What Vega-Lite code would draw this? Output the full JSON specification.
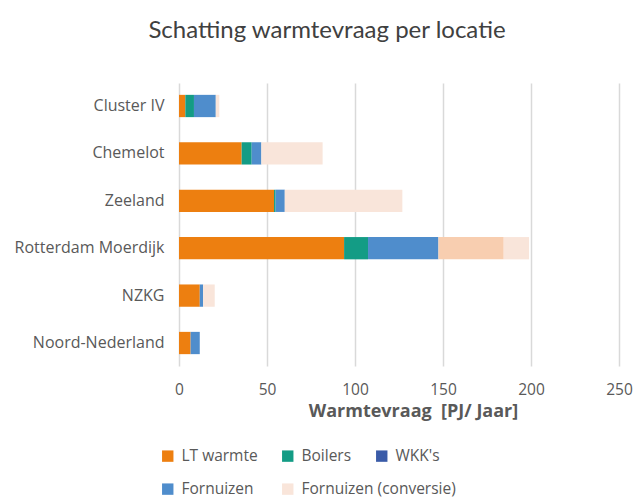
{
  "$schema": "https://vega.github.io/schema/vega-lite/v6.json",
  "width": 440,
  "height": 283,
  "autosize": "none",
  "padding": {"left": 179, "top": 83, "right": 15, "bottom": 133},
  "background": "white",
  "title": {
    "text": "Schatting warmtevraag per locatie",
    "anchor": "middle",
    "dx": -72,
    "offset": 40,
    "fontSize": 24,
    "font": "Lato",
    "fontWeight": "normal",
    "color": "#404040"
  },
  "data": {
    "values": [
      {"locatie": "Cluster IV", "categorie": "LT warmte", "waarde": 3.6},
      {"locatie": "Cluster IV", "categorie": "Boilers", "waarde": 4.9},
      {"locatie": "Cluster IV", "categorie": "WKK's", "waarde": 0},
      {"locatie": "Cluster IV", "categorie": "Fornuizen", "waarde": 12.4},
      {"locatie": "Cluster IV", "categorie": "Fornuizen (conversie)", "waarde": 2.0},
      {"locatie": "Chemelot", "categorie": "LT warmte", "waarde": 35.6},
      {"locatie": "Chemelot", "categorie": "Boilers", "waarde": 5.7},
      {"locatie": "Chemelot", "categorie": "WKK's", "waarde": 0},
      {"locatie": "Chemelot", "categorie": "Fornuizen", "waarde": 5.5},
      {"locatie": "Chemelot", "categorie": "Fornuizen (conversie)", "waarde": 34.8},
      {"locatie": "Zeeland", "categorie": "LT warmte", "waarde": 54.0},
      {"locatie": "Zeeland", "categorie": "Boilers", "waarde": 0.9},
      {"locatie": "Zeeland", "categorie": "WKK's", "waarde": 0},
      {"locatie": "Zeeland", "categorie": "Fornuizen", "waarde": 5.2},
      {"locatie": "Zeeland", "categorie": "Fornuizen (conversie)", "waarde": 66.8},
      {"locatie": "Rotterdam Moerdijk", "categorie": "LT warmte", "waarde": 93.8},
      {"locatie": "Rotterdam Moerdijk", "categorie": "Boilers", "waarde": 13.6},
      {"locatie": "Rotterdam Moerdijk", "categorie": "WKK's", "waarde": 0},
      {"locatie": "Rotterdam Moerdijk", "categorie": "Fornuizen", "waarde": 40.0},
      {"locatie": "Rotterdam Moerdijk", "categorie": "Overig", "waarde": 37.1},
      {"locatie": "Rotterdam Moerdijk", "categorie": "Fornuizen (conversie)", "waarde": 14.4},
      {"locatie": "NZKG", "categorie": "LT warmte", "waarde": 11.8},
      {"locatie": "NZKG", "categorie": "Boilers", "waarde": 0},
      {"locatie": "NZKG", "categorie": "WKK's", "waarde": 0},
      {"locatie": "NZKG", "categorie": "Fornuizen", "waarde": 1.9},
      {"locatie": "NZKG", "categorie": "Fornuizen (conversie)", "waarde": 6.6},
      {"locatie": "Noord-Nederland", "categorie": "LT warmte", "waarde": 6.6},
      {"locatie": "Noord-Nederland", "categorie": "Boilers", "waarde": 0},
      {"locatie": "Noord-Nederland", "categorie": "WKK's", "waarde": 0},
      {"locatie": "Noord-Nederland", "categorie": "Fornuizen", "waarde": 5.2},
      {"locatie": "Noord-Nederland", "categorie": "Fornuizen (conversie)", "waarde": 0}
    ]
  },
  "transform": [
    {"calculate": "indexof(['LT warmte','Boilers','WKK\\'s','Fornuizen','Overig','Fornuizen (conversie)'], datum.categorie)", "as": "volgorde"},
    {"stack": "waarde", "groupby": ["locatie"], "sort": [{"field": "volgorde", "order": "ascending"}], "as": ["x0", "x1"]}
  ],
  "encoding": {
    "y": {
      "field": "locatie",
      "type": "nominal",
      "sort": ["Cluster IV", "Chemelot", "Zeeland", "Rotterdam Moerdijk", "NZKG", "Noord-Nederland"],
      "scale": {"paddingInner": 0.53, "paddingOuter": 0.25},
      "axis": {
        "title": null,
        "domain": false,
        "ticks": false,
        "labelFont": "Open Sans",
        "labelFontSize": 16,
        "labelColor": "#595959",
        "labelPadding": 15
      }
    },
    "x": {
      "field": "x0",
      "type": "quantitative",
      "scale": {"domain": [0, 250]},
      "axis": {
        "values": [0, 50, 100, 150, 200, 250],
        "title": "Warmtevraag \u00a0[PJ/ Jaar]",
        "titleFont": "Open Sans",
        "titleFontSize": 18,
        "titleFontWeight": "bold",
        "titleColor": "#595959",
        "titlePadding": 5,
        "titleX": 234,
        "labelFont": "Open Sans",
        "labelFontSize": 15.5,
        "labelColor": "#595959",
        "labelPadding": 16,
        "labelFlush": false,
        "domain": false,
        "ticks": false,
        "grid": true,
        "gridColor": "#D9D9D9",
        "gridWidth": 1.5
      }
    },
    "x2": {"field": "x1"}
  },
  "layer": [
    {
      "transform": [{"filter": "datum.volgorde <= 2"}],
      "mark": {"type": "bar"},
      "encoding": {
        "color": {
          "field": "categorie",
          "type": "nominal",
          "scale": {
            "domain": ["LT warmte", "Boilers", "WKK's"],
            "range": ["#ED7F10", "#139C85", "#3A5BA8"]
          },
          "legend": {
            "title": null,
            "orient": "none",
            "legendX": -19,
            "legendY": 365,
            "direction": "horizontal",
            "gridAlign": "each",
            "columnPadding": 22,
            "symbolType": "square",
            "symbolSize": 130,
            "symbolStrokeWidth": 0,
            "labelFont": "Open Sans",
            "labelFontSize": 15.5,
            "labelColor": "#595959",
            "labelOffset": 6
          }
        }
      }
    },
    {
      "transform": [{"filter": "datum.volgorde >= 3"}],
      "mark": {"type": "bar"},
      "encoding": {
        "fill": {
          "field": "categorie",
          "type": "nominal",
          "scale": {
            "domain": ["Fornuizen", "Fornuizen (conversie)", "Overig"],
            "range": ["#4F8DCC", "#F9E5DA", "#F8CEB0"]
          },
          "legend": {
            "title": null,
            "values": ["Fornuizen", "Fornuizen (conversie)"],
            "orient": "none",
            "legendX": -19,
            "legendY": 398,
            "direction": "horizontal",
            "gridAlign": "each",
            "columnPadding": 26,
            "symbolType": "square",
            "symbolSize": 130,
            "symbolStrokeWidth": 0,
            "labelFont": "Open Sans",
            "labelFontSize": 15.5,
            "labelColor": "#595959",
            "labelOffset": 6
          }
        }
      }
    }
  ],
  "resolve": {"scale": {"color": "independent", "fill": "independent"}, "legend": {"color": "independent", "fill": "independent"}},
  "config": {"view": {"stroke": null}}
}
